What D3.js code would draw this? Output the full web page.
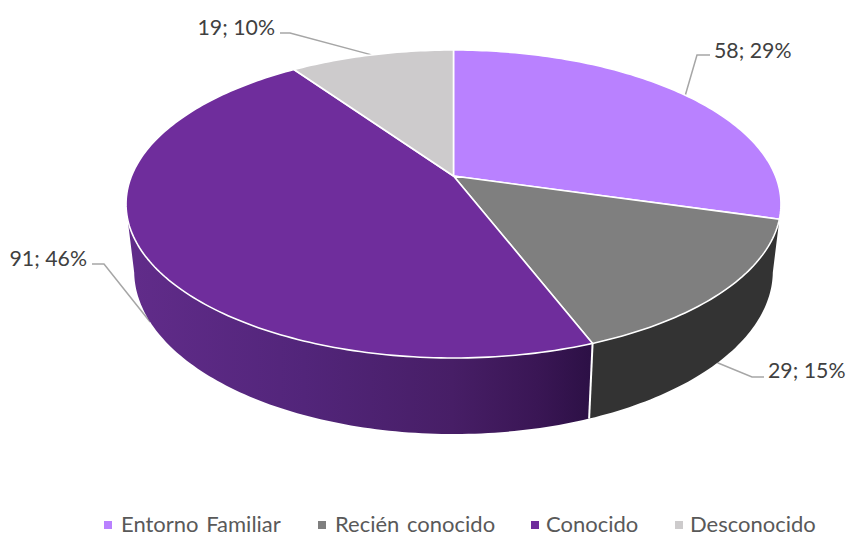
<!DOCTYPE html>
<html><head><meta charset="utf-8">
<style>html,body{margin:0;background:#fff}svg{display:block}text{font-family:Lato,"Open Sans",sans-serif}</style>
<script src="https://cdnjs.cloudflare.com/ajax/libs/d3/7.8.5/d3.min.js"></script>
</head><body><svg id="c" width="847" height="534"></svg>
<script>
const categories = ["Entorno Familiar","Recién conocido","Conocido","Desconocido"];
const values = [58,29,91,19];
const percents = [29,15,46,10];
const topColors = ["#b981ff","#7f7f7f","#6f2d9c","#cdcbcc"];

const W=847,H=534,cx=453.5,apexY=176,a=322,b=148.9,p=0.1818,baseApexY=241.4,baseA=314,baseB=157.6;
const svg=d3.select("#c");
const rad=d=>d*Math.PI/180;
// perspective projection of a disc; theta runs clockwise from 12 o'clock
const proj=(t,ra,rb,y0)=>{const u=Math.sin(t),v=Math.cos(t),k=1+p*v;return [cx+ra*u/k,y0-rb*v/k];};
const topPt=t=>proj(t,a,b,apexY), basePt=t=>proj(t,baseA,baseB,baseApexY);
const arcs=d3.pie().sort(null).value(d=>d)(values);
const line=d3.line();
const samples=(t0,t1,f)=>{const n=Math.max(2,Math.ceil(Math.abs(t1-t0)/rad(1)));return d3.range(n+1).map(i=>f(t0+(t1-t0)*i/n));};

const grad=svg.append("defs").append("linearGradient").attr("id","wall").attr("gradientUnits","userSpaceOnUse")
  .attr("x1",127).attr("x2",592).attr("y1",0).attr("y2",0);
[[0,"#612c8a"],[0.38,"#52257a"],[0.7,"#471e66"],[0.88,"#3a1655"],[1,"#2c1045"]]
  .forEach(s=>grad.append("stop").attr("offset",s[0]).attr("stop-color",s[1]));

// leader lines (under the pie)
const elbows=[[[697,55],[710,55]],[[752,377],[764,377]],[[104,264],[92,264]],[[290,33],[280,33]]];
const labelPos=[[714,50,"start"],[768,370,"start"],[87,258,"end"],[275,27,"end"]];
arcs.forEach((d,i)=>{
  const m=(d.startAngle+d.endAngle)/2;
  const start=(i===1||i===2)?basePt(m):topPt(m);
  svg.append("path").attr("d",line([start,...elbows[i]])).attr("fill","none").attr("stroke","#a6a6a6").attr("stroke-width",1.5);
});

// walls
const leftSil=rad(259), rightSil=rad(101);
const wallPath=(t0,t1,b0,b1)=>line([...samples(t0,t1,topPt),...samples(b1,b0,basePt)])+"Z";
svg.append("path").attr("d",wallPath(arcs[1].startAngle,arcs[1].endAngle,rightSil,arcs[1].endAngle)).attr("fill","#333333");
svg.append("path").attr("d",wallPath(arcs[2].startAngle,rad(254),arcs[2].startAngle,leftSil)).attr("fill","url(#wall)");
svg.append("path").attr("d",line([topPt(arcs[2].startAngle),basePt(arcs[2].startAngle)])).attr("stroke","#fff").attr("stroke-width",2).attr("fill","none");

// top face
arcs.forEach((d,i)=>{
  svg.append("path").attr("d",line([[cx,apexY],...samples(d.startAngle,d.endAngle,topPt)])+"Z")
    .attr("fill",topColors[i]).attr("stroke","#fff").attr("stroke-width",1.6).attr("stroke-linejoin","round");
});

// data labels
arcs.forEach((d,i)=>{
  svg.append("text").attr("x",labelPos[i][0]).attr("y",labelPos[i][1]).attr("text-anchor",labelPos[i][2])
    .attr("dy","0.36em").attr("font-size",21.3).attr("fill","#404040").text(`${values[i]}; ${percents[i]}%`);
});

// legend
const legendRectX=[104,318,531,675];
const legendTextX=[121,335,546,690];
categories.forEach((c,i)=>{
  svg.append("rect").attr("x",legendRectX[i]).attr("y",521).attr("width",8).attr("height",8).attr("fill",topColors[i]);
  svg.append("text").attr("x",legendTextX[i]).attr("y",524).attr("dy","0.36em").attr("font-size",22).attr("word-spacing",2).attr("fill","#595959").text(c);
});
</script></body></html>
